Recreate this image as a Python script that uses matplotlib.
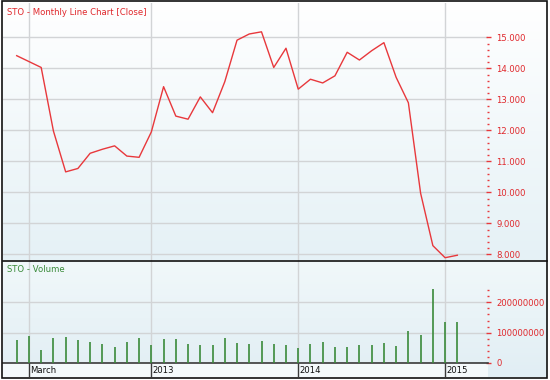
import numpy as np
import matplotlib
matplotlib.use("Agg")
import matplotlib.pyplot as plt
from matplotlib.lines import Line2D
from matplotlib.patches import Rectangle
from matplotlib.ticker import MultipleLocator, FixedLocator

# ---- data (Feb 2012 .. Feb 2015, monthly) ----
close = [14.41, 14.22, 14.03, 11.98, 10.66, 10.77, 11.26, 11.39, 11.50, 11.17,
         11.13, 11.95, 13.41, 12.46, 12.36, 13.08, 12.57, 13.57, 14.91, 15.11,
         15.18, 14.03, 14.65, 13.33, 13.65, 13.53, 13.76, 14.52, 14.27, 14.57,
         14.83, 13.71, 12.89, 9.97, 8.28, 7.89, 7.97]
volume_m = [76, 90, 43, 84, 87, 76, 69, 62, 54, 69, 83, 60, 78, 78, 63, 60, 59,
            84, 66, 63, 73, 64, 60, 49, 64, 69, 52, 52, 60, 60, 66, 57, 107, 92,
            245, 135, 135]
date_tick_idx = [1, 11, 23, 35]
date_tick_labels = ["March", "2013", "2014", "2015"]
price_ticks = [8, 9, 10, 11, 12, 13, 14, 15]
volume_ticks = [0, 100000000, 200000000]

W, H = 550, 380
RED = "#e8383c"
TXTRED = "#e0282c"
GREEN = "#3a8a3a"

x = np.arange(len(close))
vol = np.array(volume_m) * 1e6

fig = plt.figure(figsize=(W / 100, H / 100), dpi=100)
fig.patch.set_facecolor("white")
plt.rcParams["font.family"] = ["DejaVu Sans"]

def fx(px):
    return px / W

def fy(py):
    return 1 - py / H

def rect(l, t, r, b):
    return [fx(l), fy(b), fx(r) - fx(l), fy(t) - fy(b)]

def gradient_axes(l, t, r, b, c_top, c_bot, z):
    a = fig.add_axes(rect(l, t, r, b), zorder=z)
    a.set_axis_off()
    c1 = np.array(matplotlib.colors.to_rgb(c_top))
    c2 = np.array(matplotlib.colors.to_rgb(c_bot))
    t_ = np.linspace(0, 1, 256)[:, None]
    img = (c1 * (1 - t_) + c2 * t_)[:, None, :]
    a.imshow(img, aspect="auto", extent=[0, 1, 0, 1])
    a.set_xlim(0, 1); a.set_ylim(0, 1)
    return a

P_TOP, P_BOT = 3, 260.5
V_BOT = 363
S_BOT = 377
LEFT, DRIGHT, RIGHT = 3, 488, 547

gradient_axes(LEFT, P_TOP, RIGHT, P_BOT, "#ffffff", "#e5f1f6", 0)
gradient_axes(LEFT, P_BOT, RIGHT, S_BOT, "#f1f8fa", "#e1eef4", 0)

xlim = ((LEFT - 16.7) / 12.24, (DRIGHT - 16.7) / 12.24)

def style_axes(a):
    a.patch.set_alpha(0)
    for s in a.spines.values():
        s.set_visible(False)
    a.set_xlim(*xlim)
    a.set_xticks(date_tick_idx)
    a.tick_params(axis="x", which="both", length=0, labelbottom=False)
    a.yaxis.tick_right()
    a.tick_params(axis="y", which="major", direction="inout", length=3.6,
                  width=1.0, color=RED, labelcolor=TXTRED, labelsize=6.1, pad=4.3)
    a.tick_params(axis="y", which="minor", direction="inout", length=1.5,
                  width=1.0, color=RED)
    a.grid(True, which="major", color="#d2d4d6", lw=1.0, zorder=0)
    a.set_axisbelow(True)

# price panel
axp = fig.add_axes(rect(LEFT, P_TOP, DRIGHT, P_BOT), zorder=2)
style_axes(axp)
axp.plot(x, close, color=RED, lw=1.0, zorder=3)
axp.set_ylim(7.80, 16.11)
axp.yaxis.set_major_locator(FixedLocator(price_ticks))
axp.yaxis.set_minor_locator(FixedLocator(np.round(np.arange(8.0, 15.01, 0.2), 2)))
axp.yaxis.set_major_formatter(matplotlib.ticker.FuncFormatter(lambda v, p: f"{v:.3f}"))
axp.text(fx(7), fy(12.5), "STO - Monthly Line Chart [Close]", transform=fig.transFigure,
         color=TXTRED, fontsize=6.1, va="center", ha="left")

# volume panel
axv = fig.add_axes(rect(LEFT, P_BOT, DRIGHT, V_BOT), zorder=2)
style_axes(axv)
axv.vlines(x, 0, vol, color=GREEN, lw=1.2, zorder=3)
axv.set_ylim(0, 338e6)
axv.yaxis.set_major_locator(FixedLocator(volume_ticks))
axv.yaxis.set_minor_locator(FixedLocator(np.arange(0, 240e6 + 1, 20e6)))
axv.yaxis.set_major_formatter(matplotlib.ticker.FuncFormatter(lambda v, p: f"{int(v)}"))
axv.spines["bottom"].set_visible(True)
axv.spines["bottom"].set_color("#3a3a3a")
axv.spines["bottom"].set_linewidth(1.2)
axv.text(fx(7), fy(270), "STO - Volume", transform=fig.transFigure,
         color=GREEN, fontsize=6.1, va="center", ha="left")

# date strip
axs = fig.add_axes(rect(LEFT, V_BOT, DRIGHT, S_BOT), zorder=1)
axs.set_axis_off()
axs.add_patch(Rectangle((0, 0), 1, 1, transform=axs.transAxes, color="#f4f9fb", zorder=0))
axs.set_xlim(*xlim)
axs.set_ylim(0, 1)
axs.vlines(date_tick_idx, 0, 1, color="#3a3a3a", lw=1.0, zorder=2)
for i, lab in zip(date_tick_idx, date_tick_labels):
    axs.text(i + 0.1, 0.45, lab, color="#111111", fontsize=6.1, va="center", ha="left")

# separators and border
fig.add_artist(Line2D([fx(LEFT), fx(RIGHT)], [fy(P_BOT), fy(P_BOT)], color="#111111",
                      lw=1.2, transform=fig.transFigure, zorder=5))
fig.add_artist(Rectangle((fx(1.5), fy(377.5)), fx(547) - fx(1.5), fy(1.5) - fy(377.5),
                         fill=False, edgecolor="#111111", lw=1.2,
                         transform=fig.transFigure, zorder=6))

fig.savefig("out.png", dpi=100, facecolor="white")
